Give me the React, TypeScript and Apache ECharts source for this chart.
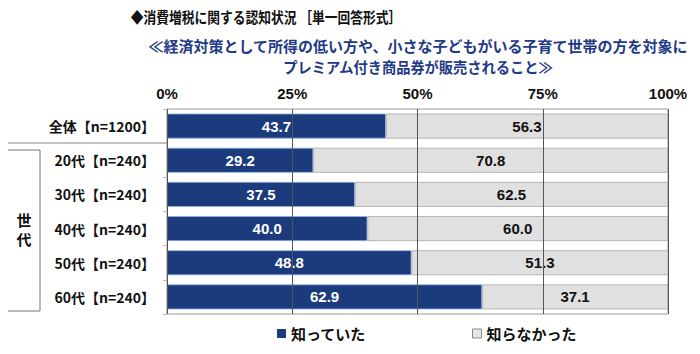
import React, { useEffect, useRef } from "react";
import * as echarts from "echarts";

const categories = ["全体【n=1200】", "20代【n=240】", "30代【n=240】", "40代【n=240】", "50代【n=240】", "60代【n=240】"];
const knew = [43.7, 29.2, 37.5, 40.0, 48.8, 62.9];
const didNotKnow = [56.3, 70.8, 62.5, 60.0, 51.3, 37.1];
const seriesNames = ["知っていた", "知らなかった"];
const title = "◆消費増税に関する認知状況 ［単一回答形式］";
const subtitle1 = "≪経済対策として所得の低い方や、小さな子どもがいる子育て世帯の方を対象に";
const subtitle2 = "プレミアム付き商品券が販売されること≫";
const groupChars = ["世", "代"];

const FONT = "'Noto Sans CJK JP', 'Noto Sans', sans-serif";
const NUMFONT = "'Liberation Sans', Arial, sans-serif";

export default function App() {
  const ref = useRef<HTMLDivElement>(null);
  useEffect(() => {
    if (!ref.current) return;
    const chart = echarts.init(ref.current, null, { renderer: "svg" });
    chart.setOption({
      animation: false,
      backgroundColor: "#ffffff",
      textStyle: { fontFamily: FONT },
      grid: { left: 167, right: 32, top: 109, bottom: 40, show: true, borderColor: "#9a9a9a", borderWidth: 1 },
      xAxis: {
        type: "value",
        min: 0,
        max: 100,
        interval: 25,
        position: "top",
        z: 5,
        axisLine: { show: false },
        axisTick: { show: false },
        axisLabel: { formatter: "{value}%", color: "#111", fontSize: 15, fontWeight: "bold", fontFamily: NUMFONT, margin: 8 },
        splitLine: { show: true, lineStyle: { color: "#555", width: 1 } },
      },
      yAxis: {
        type: "category",
        data: categories,
        inverse: true,
        axisLine: { show: false },
        axisTick: { show: true, length: 4, lineStyle: { color: "#bbb" } },
        axisLabel: { color: "#111", fontSize: 14, fontWeight: "bold", fontFamily: FONT, margin: 12 },
      },
      legend: {
        left: 272,
        top: 321,
        itemGap: 106,
        itemWidth: 9,
        itemHeight: 9,
        itemGap2: 0,
        icon: "rect",
        textStyle: { fontSize: 15, fontWeight: "bold", color: "#111", fontFamily: FONT },
        data: [
          { name: seriesNames[0], itemStyle: { color: "#1b3b7d", borderWidth: 0 } },
          { name: seriesNames[1], itemStyle: { color: "#e6e6e6", borderColor: "#888", borderWidth: 1 } },
        ],
      },
      graphic: [
        { type: "text", x: 266, y: 17, scaleX: 0.85, style: { text: title, font: `bold 15px ${FONT}`, fill: "#111", align: "center", verticalAlign: "middle" } },
        { type: "text", x: 418, y: 45, style: { text: subtitle1, font: `bold 15px ${FONT}`, fill: "#1f3a86", align: "center", verticalAlign: "middle" } },
        { type: "text", x: 418, y: 66, scaleX: 0.95, style: { text: subtitle2, font: `bold 15px ${FONT}`, fill: "#1f3a86", align: "center", verticalAlign: "middle" } },
        { type: "line", shape: { x1: 4, y1: 143, x2: 167, y2: 143 }, style: { stroke: "#888", lineWidth: 1 } },
        { type: "rect", shape: { x: 7, y: 150, width: 33, height: 161 }, style: { fill: "none", stroke: "#777", lineWidth: 1 } },
        { type: "text", x: 24, y: 219, style: { text: groupChars[0], font: `bold 15px ${FONT}`, fill: "#111", align: "center", verticalAlign: "middle" } },
        { type: "text", x: 24, y: 238, style: { text: groupChars[1], font: `bold 15px ${FONT}`, fill: "#111", align: "center", verticalAlign: "middle" } },
      ],
      series: [
        {
          name: seriesNames[0],
          type: "bar",
          stack: "total",
          data: knew,
          barWidth: 25,
          itemStyle: { color: "#1b3b7d", borderColor: "#8fb4e6", borderWidth: 0.8 },
          label: { show: true, position: "inside", color: "#ffffff", fontSize: 15, fontWeight: "bold", fontFamily: NUMFONT, formatter: (p: any) => p.value.toFixed(1) },
        },
        {
          name: seriesNames[1],
          type: "bar",
          stack: "total",
          data: didNotKnow,
          barWidth: 25,
          itemStyle: { color: "#e0e0e0", borderColor: "#a8a8a8", borderWidth: 0.8 },
          label: { show: true, position: "inside", color: "#111", fontSize: 15, fontWeight: "bold", fontFamily: NUMFONT, formatter: (p: any) => p.value.toFixed(1) },
        },
      ],
    });
    return () => chart.dispose();
  }, []);
  return <div ref={ref} style={{ width: 700, height: 354, margin: -8 }} />;
}
